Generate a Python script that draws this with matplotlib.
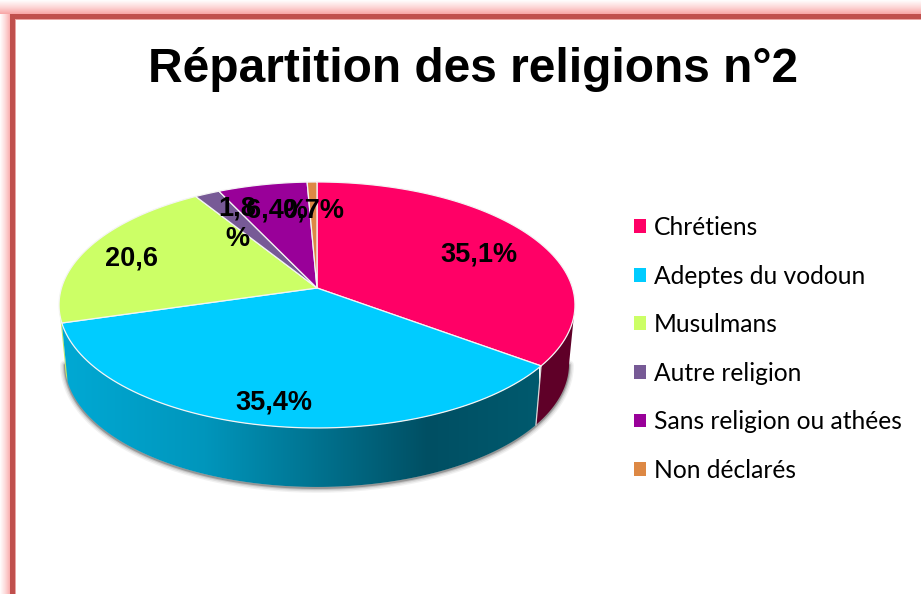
import matplotlib
matplotlib.use("Agg")
import matplotlib.pyplot as plt
import numpy as np
from matplotlib.colors import LinearSegmentedColormap
from matplotlib.patches import Patch, Polygon, Rectangle

# Data
categories = ["Chrétiens", "Adeptes du vodoun", "Musulmans", "Autre religion",
              "Sans religion ou athées", "Non déclarés"]
valeurs = [35.1, 35.4, 20.6, 1.8, 6.4, 0.7]
etiquettes = ["35,1%", "35,4%", "20,6", "1,8\n%", "6,4%", "0,7%"]
couleurs = ["#ff0066", "#00ccff", "#ccff66", "#775a96", "#990099", "#dd8844"]
titre = "Répartition des religions n°2"

# Where the labels sit (pixels)
pos_etiquettes = [(479, 255), (274, 403), (131, 259), (237, 224), (277, 210), (314, 210)]

# Pie geometry (pixels), perspective seen from above
cx, cy = 317, 288
k = 0.138
a = 120.65
b = 255.5
depth = 59
shrink = 0.977


def project(deg):
    t = np.radians(deg)
    x, y = np.sin(t), np.cos(t)
    w = 1 + k * y
    return cx + b * x / w, cy - a * y / w


def project_bottom(deg):
    x, y = project(deg)
    return cx + shrink * (x - cx), y + depth


def side_polygon(start, stop):
    ang = np.linspace(start, stop, 120)
    x1, y1 = project(ang)
    x2, y2 = project_bottom(ang[::-1])
    return np.column_stack([np.r_[x1, x2], np.r_[y1, y2]])


fig = plt.figure(figsize=(9.21, 5.94), dpi=100)
ax = fig.add_axes([0, 0, 1, 1])

# Frame with its pink glow
glow_cmap = LinearSegmentedColormap.from_list("glow", ["#ffffff", "#fdd8d8", "#f8a6a6"])
ax.imshow(np.linspace(0, 1, 64).reshape(-1, 1), extent=(0, 921, 14, 0), cmap=glow_cmap,
          aspect="auto", zorder=1)
ax.imshow(np.linspace(0, 1, 64).reshape(1, -1), extent=(0, 10, 594, 14), cmap=glow_cmap,
          aspect="auto", zorder=1)
ax.add_patch(Rectangle((10, 14), 911, 5, color="#c0504d", lw=0, zorder=2))
ax.add_patch(Rectangle((10, 14), 5, 580, color="#c0504d", lw=0, zorder=2))
ax.add_patch(Rectangle((15, 19), 906, 1, color="#eba5a3", lw=0, zorder=2))
ax.add_patch(Rectangle((15, 19), 1, 575, color="#eba5a3", lw=0, zorder=2))

# Angles of the slices, clockwise from the top
bornes = np.r_[0, np.cumsum(valeurs)] / np.sum(valeurs) * 360
right_edge, left_edge = 98, 262

# Soft shadow under the drum
ang = np.linspace(right_edge, left_edge, 200)
xs, ys = project_bottom(ang)
for lw, al in [(7, 0.08), (5, 0.12), (3, 0.2), (1.5, 0.4)]:
    ax.plot(xs, ys + 1, color="#555555", lw=lw, alpha=al, zorder=3, solid_capstyle="round")

# Side of the drum
pink_side = Polygon(side_polygon(right_edge, bornes[1]), fc="#5f0028", ec="none", zorder=4)
ax.add_patch(pink_side)
green_side = Polygon(side_polygon(bornes[2], left_edge), fc="#c4ea60", ec="none", zorder=4)
ax.add_patch(green_side)

blue_cmap = LinearSegmentedColormap.from_list(
    "bleu", [(0, "#00a9d4"), (0.3, "#0096bc"), (0.77, "#004f63"), (1, "#005a6e")])
blue_img = ax.imshow(np.linspace(0, 1, 256).reshape(1, -1), extent=(61, 538, 500, 300),
                     cmap=blue_cmap, aspect="auto", zorder=4)
blue_side = Polygon(side_polygon(bornes[1], bornes[2]), fc="none", ec="none",
                    transform=ax.transData)
ax.add_patch(blue_side)
blue_img.set_clip_path(blue_side)

# Line between the pink and the blue side
x1, y1 = project(bornes[1])
x2, y2 = project_bottom(bornes[1])
ax.plot([x1, x2], [y1, y2], color="#d8d8d8", lw=0.9, zorder=5)

# Top of the pie
for i, couleur in enumerate(couleurs):
    ang = np.linspace(bornes[i], bornes[i + 1], 80)
    xs, ys = project(ang)
    ax.fill(np.r_[cx, xs], np.r_[cy, ys], facecolor=couleur, edgecolor="#f4f4f4", lw=0.9,
            joinstyle="round", zorder=6)

# Labels
for texte, (x, y) in zip(etiquettes, pos_etiquettes):
    ax.text(x, y, texte, ha="center", va="center", fontsize=19.5, fontweight="bold",
            family="Liberation Sans", color="black", linespacing=1.2, zorder=8)

ax.text(472.5, 69, titre, ha="center", va="center", fontsize=34.5, fontweight="bold",
        family="Liberation Sans", color="black", zorder=8)

# Legend
handles = [Patch(facecolor=c, edgecolor="none", label=n) for c, n in zip(couleurs, categories)]
fs = 17.7
ax.legend(handles=handles, loc="upper left", bbox_to_anchor=(634, 216),
          bbox_transform=ax.transData, frameon=False, prop={"family": "Lato", "size": fs},
          handlelength=8.64 / fs, handleheight=8.64 / fs, handletextpad=5.76 / fs,
          labelspacing=1.04, borderpad=0, borderaxespad=0)

ax.set_xlim(0, 921)
ax.set_ylim(594, 0)
ax.set_aspect("auto")
ax.axis("off")

fig.savefig("out.png", dpi=100)
